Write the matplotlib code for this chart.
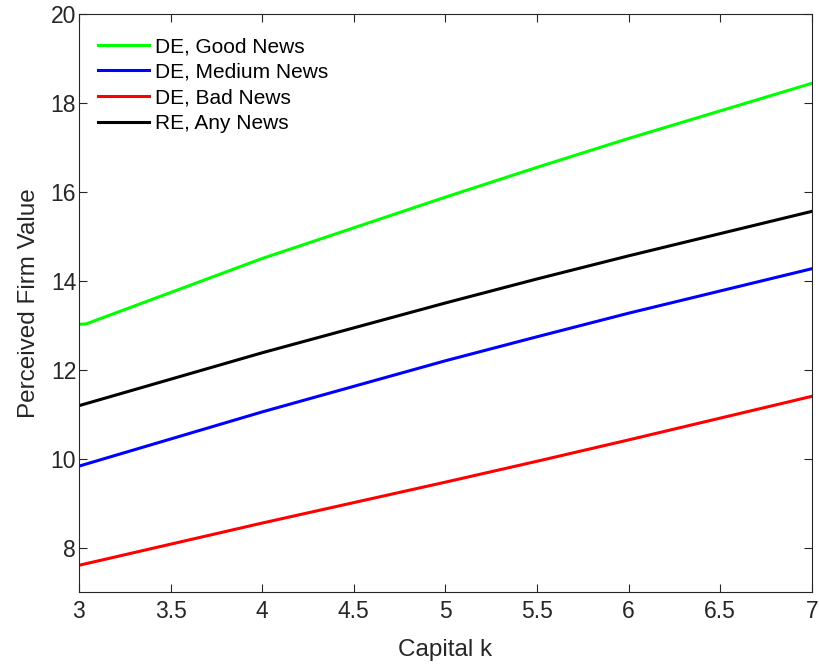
import matplotlib
matplotlib.use("Agg")
import matplotlib.pyplot as plt

plt.rcParams['font.family'] = ['Liberation Sans', 'DejaVu Sans']

# capital grid
k = [3.0, 4.0, 5.0, 5.5, 6.0, 7.0]
k_good = [3.0, 3.04, 4.0, 5.0, 5.5, 6.0, 7.0]

good = [13.02, 13.03, 14.50, 15.88, 16.55, 17.20, 18.44]
medium = [9.83, 11.05, 12.20, 12.74, 13.27, 14.27]
bad = [7.60, 8.55, 9.47, 9.94, 10.42, 11.40]
rational = [11.19, 12.38, 13.50, 14.04, 14.56, 15.56]

labels = ["DE, Good News", "DE, Medium News", "DE, Bad News", "RE, Any News"]
colors = ["#00ff00", "#0000ff", "#ff0000", "#000000"]

fig = plt.figure(figsize=(8.2, 6.65), dpi=100)
ax = fig.add_axes([0.0963, 0.1098, 0.8937, 0.8692])

ax.plot(k_good, good, color=colors[0], lw=2.2, label=labels[0])
ax.plot(k, medium, color=colors[1], lw=2.2, label=labels[1])
ax.plot(k, bad, color=colors[2], lw=2.2, label=labels[2])
ax.plot(k, rational, color=colors[3], lw=2.2, label=labels[3])

ax.set_xlim(3, 7)
ax.set_ylim(7, 20)
ax.set_xticks([3, 3.5, 4, 4.5, 5, 5.5, 6, 6.5, 7])
ax.set_xticklabels(["3", "3.5", "4", "4.5", "5", "5.5", "6", "6.5", "7"])
ax.set_yticks([8, 10, 12, 14, 16, 18, 20])

edge = "#262626"
for s in ax.spines.values():
    s.set_color(edge)
    s.set_linewidth(0.8)
ax.tick_params(direction="in", top=True, right=True, length=6, width=0.8,
               color=edge, labelcolor=edge, labelsize=16.5)
ax.tick_params(axis="x", pad=6)
ax.tick_params(axis="y", pad=2)

ax.set_xlabel("Capital k", fontsize=17.5, color=edge, labelpad=11)
ax.set_ylabel("Perceived Firm Value", fontsize=17.5, color=edge, labelpad=8)

leg = ax.legend(loc="upper left", frameon=False, fontsize=15, handlelength=2.45,
                handletextpad=0.3, labelspacing=0.32, borderaxespad=0,
                borderpad=0.5, bbox_to_anchor=(0.0117, 0.978))

fig.savefig("out.png", dpi=100)
